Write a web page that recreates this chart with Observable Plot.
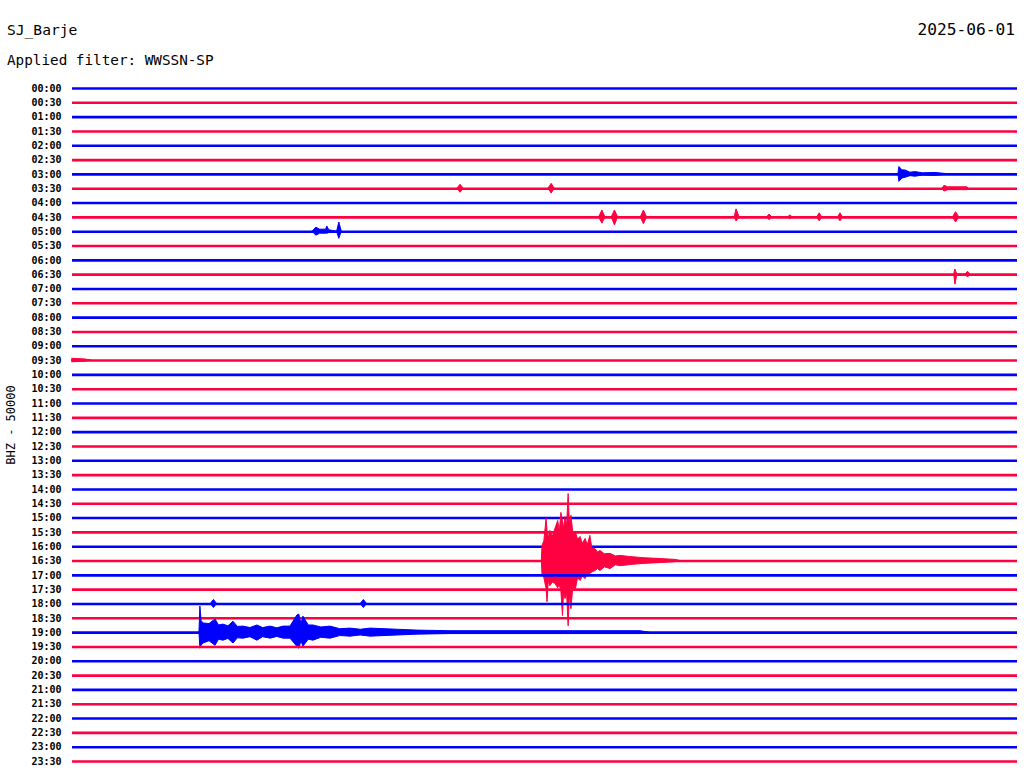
<!DOCTYPE html>
<html>
<head>
<meta charset="utf-8">
<script src="https://cdn.jsdelivr.net/npm/d3@7"></script>
<script src="https://cdn.jsdelivr.net/npm/@observablehq/plot@0.6"></script>
<style>
  html, body { margin: 0; padding: 0; background: #fff; }
  #wrap { position: relative; width: 1024px; height: 780px; overflow: hidden; font-family: "DejaVu Sans Mono", monospace; color: #000; }
  .hdr { position: absolute; line-height: 1; white-space: pre; }
  #ylab { position: absolute; left: 11px; top: 425px; font-size: 12px; line-height: 12px; white-space: pre; transform: translate(-50%, -50%) rotate(-90deg); }
  #chart { position: absolute; left: 0; top: 0; }
</style>
</head>
<body>
<div id="wrap">
  <div id="chart"></div>
  <div class="hdr" id="station" style="left:7px; top:23px; font-size:14.6px;"></div>
  <div class="hdr" id="filter" style="left:7px; top:53px; font-size:14.3px;"></div>
  <div class="hdr" id="date" style="right:9px; top:22px; font-size:16.2px;"></div>
  <div id="ylab"></div>
</div>
<script>
const stationName = "SJ_Barje";
const dateText = "2025-06-01";
const filterText = "Applied filter: WWSSN-SP";
const channelLabel = "BHZ - 50000";

// one helicorder line per half hour
const rowLabels = [
  "00:00","00:30","01:00","01:30","02:00","02:30","03:00","03:30",
  "04:00","04:30","05:00","05:30","06:00","06:30","07:00","07:30",
  "08:00","08:30","09:00","09:30","10:00","10:30","11:00","11:30",
  "12:00","12:30","13:00","13:30","14:00","14:30","15:00","15:30",
  "16:00","16:30","17:00","17:30","18:00","18:30","19:00","19:30",
  "20:00","20:30","21:00","21:30","22:00","22:30","23:00","23:30"
];
const lineColors = ["#0000ff", "#ff0040"];
const minutesPerLine = 30;
const countsPerLine = 50; // thousand counts per line spacing

// Event envelopes: [minute within line, amplitude up (k counts), amplitude down (k counts)]
const events = [
  { row: 6,  pts: [[26.22,0,0],[26.25,26,26],[26.35,14,14],[26.44,14,12],[26.60,6,6],[26.76,8,8],[27.00,4,4],[27.40,5,5],[27.87,0,0]] },
  { row: 7,  pts: [[12.22,0,0],[12.32,14,14],[12.42,0,0]] },
  { row: 7,  pts: [[15.11,0,0],[15.21,17,17],[15.31,0,0]] },
  { row: 7,  pts: [[27.62,0,0],[27.68,10,10],[27.80,5,5],[28.41,5,5],[28.45,0,0]] },
  { row: 9,  pts: [[16.72,0,0],[16.82,24,22],[16.92,0,0]] },
  { row: 9,  pts: [[17.12,0,0],[17.22,24,28],[17.32,0,0]] },
  { row: 9,  pts: [[18.04,0,0],[18.14,24,24],[18.24,0,0]] },
  { row: 9,  pts: [[21.02,0,0],[21.08,28,14],[21.18,0,0]] },
  { row: 9,  pts: [[22.05,0,0],[22.13,10,10],[22.21,0,0]] },
  { row: 9,  pts: [[22.72,0,0],[22.79,7,7],[22.86,0,0]] },
  { row: 9,  pts: [[23.64,0,0],[23.72,14,14],[23.80,0,0]] },
  { row: 9,  pts: [[24.30,0,0],[24.38,14,14],[24.46,0,0]] },
  { row: 9,  pts: [[27.95,0,0],[28.05,18,18],[28.15,0,0]] },
  { row: 10, pts: [[7.62,0,0],[7.74,14,14],[7.86,7,7],[8.05,7,7],[8.09,18,7],[8.15,5,5],[8.40,0,0],[8.47,32,25],[8.55,0,0]] },
  { row: 13, pts: [[27.99,0,0],[28.03,18,35],[28.09,0,0],[28.35,0,0],[28.43,10,10],[28.51,0,0]] },
  { row: 19, pts: [[0,6,6],[0.4,4,4],[0.6,0,0]] },
  { row: 33, pts: [[14.90,0,0],[14.92,52,46],[14.98,70,60],[15.05,147,98],[15.08,105,144],[15.12,80,70],[15.17,105,88],
                   [15.25,85,75],[15.33,112,80],[15.42,140,95],[15.47,100,85],[15.52,168,105],[15.57,140,192],
                   [15.61,110,100],[15.65,154,133],[15.70,120,110],[15.75,234,228],[15.79,130,120],[15.84,158,168],
                   [15.90,95,90],[15.97,102,105],[16.05,75,60],[16.13,84,70],[16.20,60,55],[16.29,77,63],[16.36,55,45],
                   [16.44,88,46],[16.50,45,40],[16.60,42,35],[16.68,30,28],[16.76,35,35],[16.90,24,22],[17.08,25,28],
                   [17.25,16,15],[17.40,18,18],[17.71,14,14],[18.13,10,10],[18.67,7,7],[19.14,4,4],[19.30,0,0]] },
  { row: 36, pts: [[4.39,0,0],[4.49,14,14],[4.59,0,0]] },
  { row: 36, pts: [[9.15,0,0],[9.25,14,14],[9.35,0,0]] },
  { row: 38, pts: [[4.03,0,0],[4.06,91,56],[4.10,40,45],[4.16,32,38],[4.35,30,30],[4.54,46,46],[4.65,25,25],[4.79,28,28],
                   [4.95,22,22],[5.11,38,38],[5.25,20,20],[5.43,21,21],[5.65,16,16],[5.87,25,28],[6.05,16,16],
                   [6.29,21,21],[6.50,15,15],[6.70,21,21],[6.92,21,21],[7.14,60,50],[7.20,63,56],[7.27,30,30],[7.33,56,49],
                   [7.50,25,25],[7.65,25,28],[7.90,18,18],[8.19,21,21],[8.50,12,12],[8.83,14,14],[9.15,10,10],[9.46,14,14],
                   [10.32,10,10],[10.95,7,7],[12.0,5,5],[14.22,5,5],[18.03,5,5],[18.3,0,0]] }
];

document.getElementById("station").textContent = stationName;
document.getElementById("filter").textContent = filterText;
document.getElementById("date").textContent = dateText;
document.getElementById("ylab").textContent = channelLabel;

const rows = rowLabels.map((label, i) => ({ i, label, color: lineColors[i % 2] }));
const envelope = events.flatMap((e, k) => e.pts.map(([t, up, dn]) => ({ row: e.row, id: k, t, up, dn })));

const marks = [];
for (const r of rows) {
  marks.push(Plot.ruleY([r], { y: "i", x1: 0, x2: minutesPerLine, stroke: r.color, strokeWidth: 2.6 }));
  const env = envelope.filter(d => d.row === r.i);
  if (env.length) {
    marks.push(Plot.areaY(env, {
      x: "t",
      y1: d => d.row - d.up / countsPerLine,
      y2: d => d.row + d.dn / countsPerLine,
      z: "id", fill: r.color, stroke: r.color, strokeWidth: 1
    }));
  }
}
marks.push(Plot.axisY({
  ticks: rows.map(r => r.i),
  tickFormat: i => rowLabels[i],
  tickSize: 0, tickPadding: 11,
  fontWeight: "bold", fontSize: 10, label: null
}));

const chart = Plot.plot({
  width: 1024, height: 780,
  marginLeft: 72, marginRight: 7, marginTop: 88, marginBottom: 19,
  x: { domain: [0, minutesPerLine], axis: null },
  y: { domain: [0, rowLabels.length - 1], reverse: true, axis: null },
  style: { fontFamily: "DejaVu Sans Mono", background: "#fff", color: "#000", overflow: "visible" },
  marks
});
document.getElementById("chart").append(chart);
</script>
</body>
</html>
